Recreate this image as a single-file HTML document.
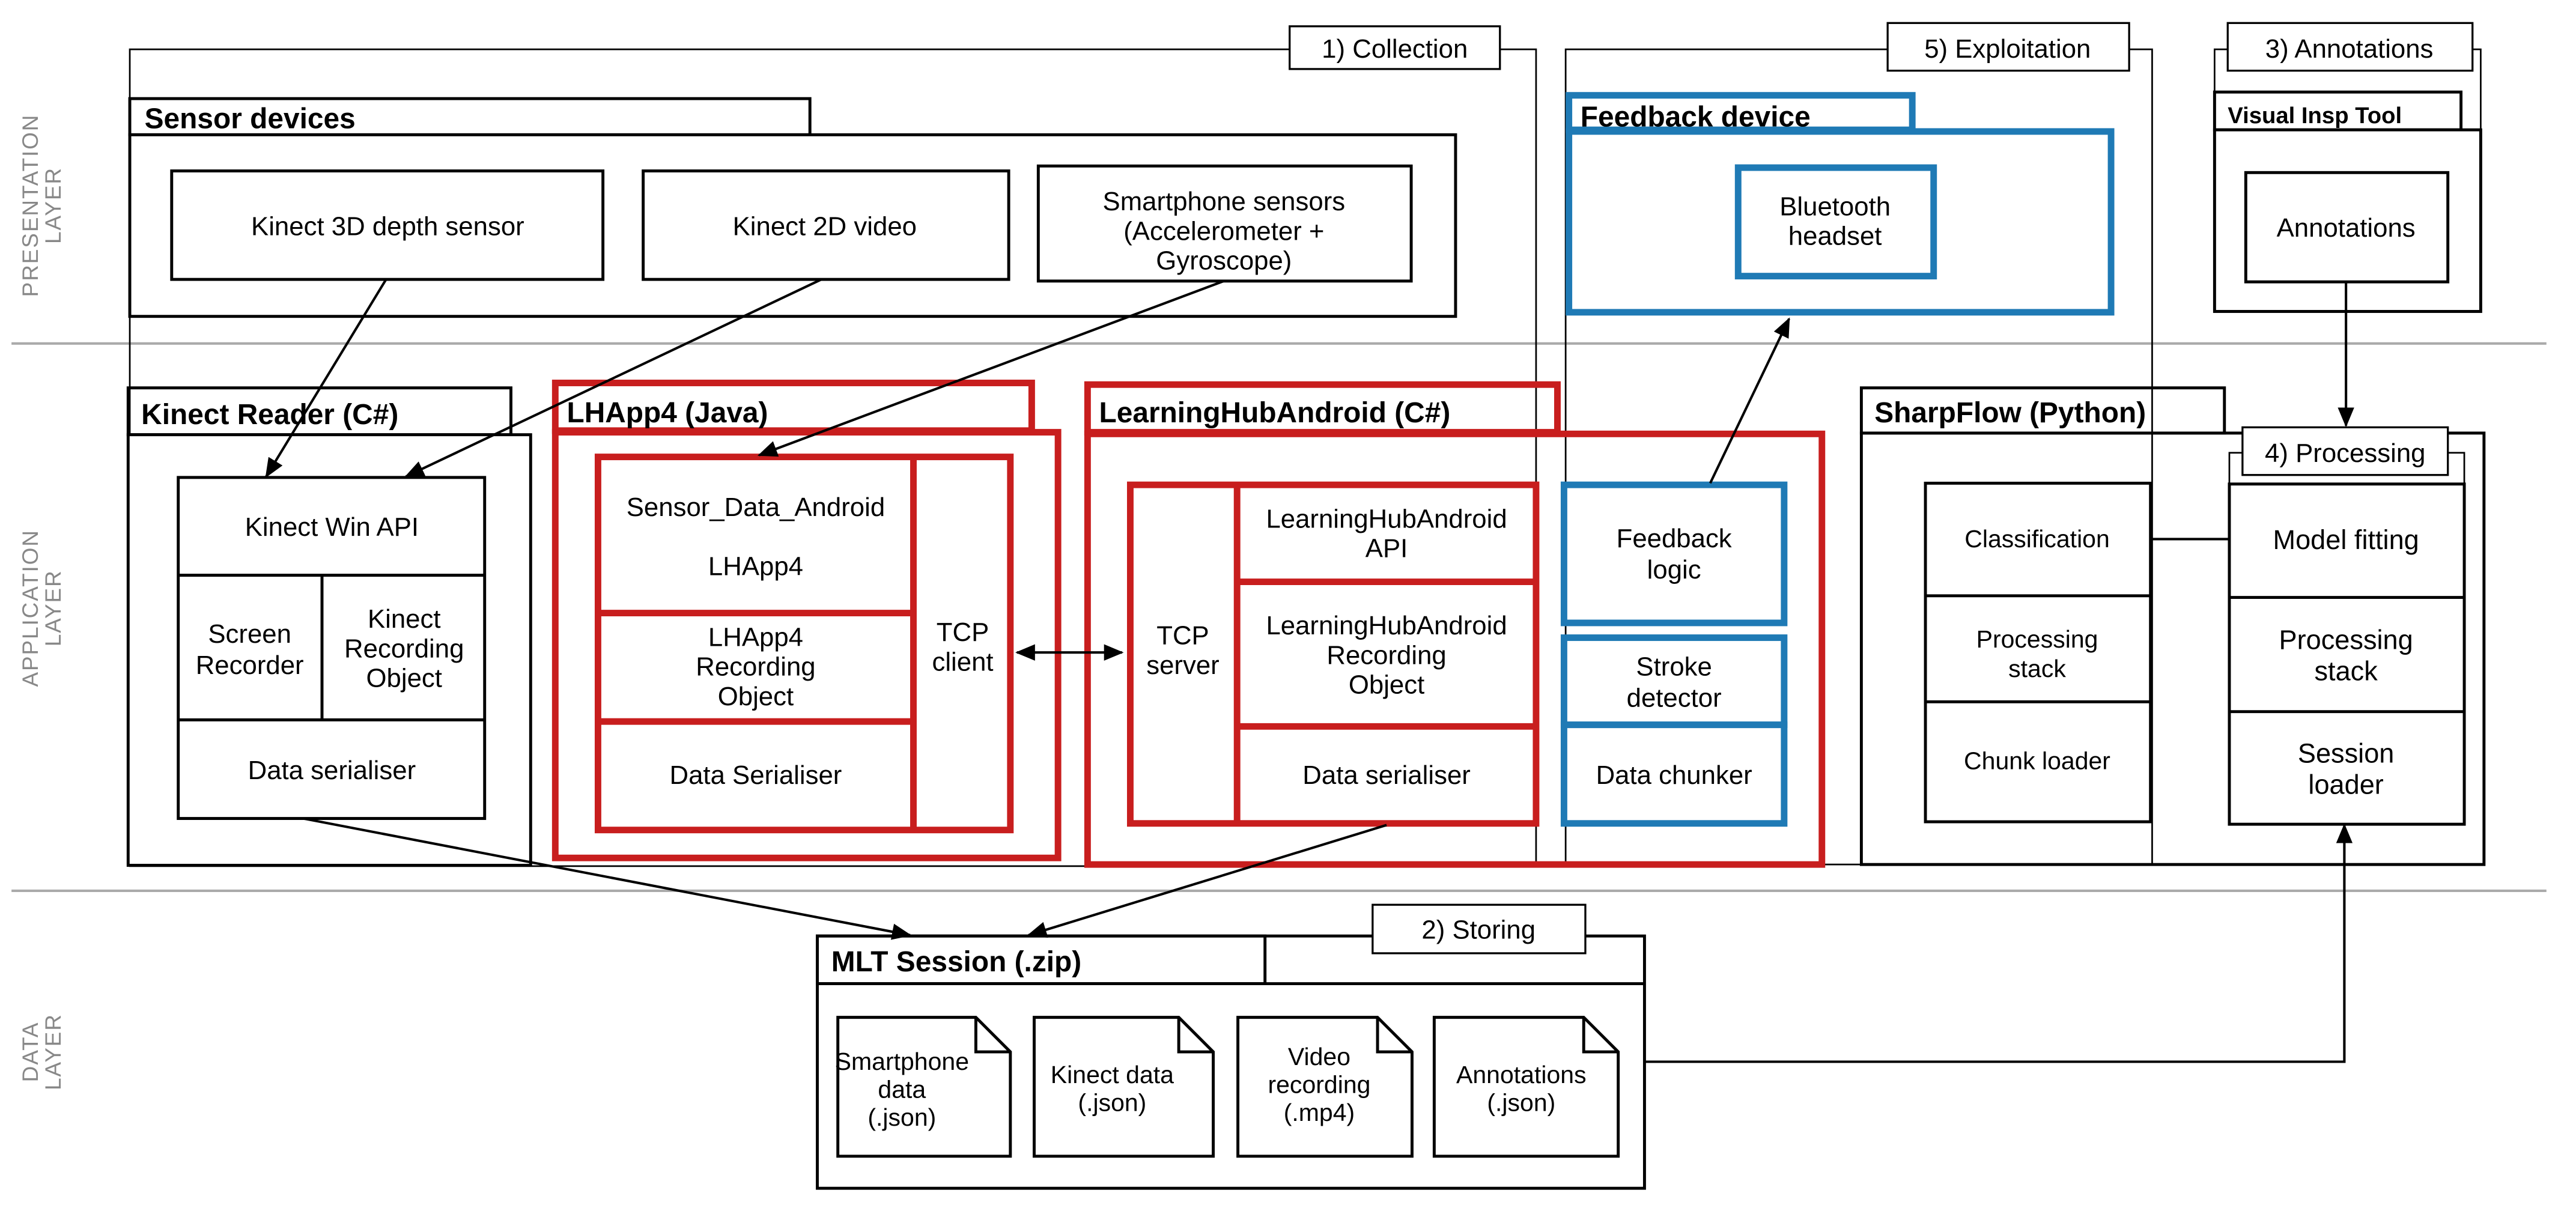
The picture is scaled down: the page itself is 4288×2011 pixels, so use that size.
<!DOCTYPE html>
<html><head><meta charset="utf-8"><style>html,body{margin:0;padding:0;background:#fff}svg{display:block}</style></head>
<body>
<svg xmlns="http://www.w3.org/2000/svg" width="4288" height="2011" viewBox="0 0 1568 735" preserveAspectRatio="none" font-family="'Liberation Sans', sans-serif">
<defs>
<marker id="ah" markerWidth="12" markerHeight="10" refX="11" refY="5" orient="auto" markerUnits="userSpaceOnUse"><path d="M0,0 L12,5 L0,10 z" fill="#000"/></marker>
<marker id="as" markerWidth="12" markerHeight="10" refX="1" refY="5" orient="auto" markerUnits="userSpaceOnUse"><path d="M12,0 L0,5 L12,10 z" fill="#000"/></marker>
</defs>
<rect width="1568" height="735" fill="#fff"/>
<line x1="7" y1="209" x2="1550" y2="209" stroke="#aaa" stroke-width="1.5"/>
<line x1="7" y1="542" x2="1550" y2="542" stroke="#aaa" stroke-width="1.5"/>
<g fill="#888" font-size="13.5" letter-spacing="0.7" text-anchor="middle">
<text transform="translate(23,125) rotate(-90)">PRESENTATION</text>
<text transform="translate(37,125) rotate(-90)">LAYER</text>
<text transform="translate(23,370) rotate(-90)">APPLICATION</text>
<text transform="translate(37,370) rotate(-90)">LAYER</text>
<text transform="translate(23,640) rotate(-90)">DATA</text>
<text transform="translate(37,640) rotate(-90)">LAYER</text>
</g>
<g fill="none" stroke="#000" stroke-width="1">
<polyline points="785,30 79,30 79,527 935,527 935,30 913,30"/>
<polyline points="1149,30 953,30 953,526 1310,526 1310,30 1296,30"/>
<polyline points="1356,30 1348,30 1348,56"/>
<polyline points="1505,30 1510,30 1510,79"/>
</g>
<g fill="#fff" stroke="#000" stroke-width="1.2">
<rect x="785" y="16" width="128" height="26"/>
<rect x="1149" y="14" width="147" height="29"/>
<rect x="1356" y="14" width="149" height="29"/>
</g>
<g font-size="16" text-anchor="middle">
<text x="849" y="35">1) Collection</text>
<text x="1222" y="35">5) Exploitation</text>
<text x="1430" y="35">3) Annotations</text>
</g>
<g fill="none" stroke="#000" stroke-width="1.8">
<rect x="79" y="60" width="414" height="22"/>
<rect x="79" y="82" width="807" height="110.5" fill="#fff"/>
<rect x="104.5" y="104" width="262.5" height="66"/>
<rect x="391.5" y="104" width="222.5" height="66"/>
<rect x="632" y="101" width="227" height="70"/>
</g>
<text x="88" y="78" font-size="17.5" font-weight="bold">Sensor devices</text>
<g font-size="16" text-anchor="middle">
<text x="236" y="143">Kinect 3D depth sensor</text>
<text x="502" y="143">Kinect 2D video</text>
<text x="745" y="128">Smartphone sensors</text>
<text x="745" y="146">(Accelerometer +</text>
<text x="745" y="164">Gyroscope)</text>
</g>
<g fill="none" stroke="#1f7ab5" stroke-width="4">
<rect x="955" y="58" width="209" height="21"/>
<rect x="955" y="80" width="330" height="110" fill="#fff"/>
<rect x="1058" y="102" width="119" height="66"/>
<rect x="952" y="295" width="134" height="84"/>
<rect x="952" y="388" width="134" height="53"/>
<rect x="952" y="441" width="134" height="60"/>
</g>
<text x="962" y="77" font-size="17.5" font-weight="bold">Feedback device</text>
<g font-size="16" text-anchor="middle">
<text x="1117" y="131">Bluetooth</text>
<text x="1117" y="149">headset</text>
<text x="1019" y="333">Feedback</text>
<text x="1019" y="352">logic</text>
<text x="1019" y="411">Stroke</text>
<text x="1019" y="430">detector</text>
<text x="1019" y="477">Data chunker</text>
</g>
<g fill="none" stroke="#000" stroke-width="1.8">
<rect x="1348" y="56" width="150" height="23"/>
<rect x="1348" y="79" width="162" height="110.5" fill="#fff"/>
<rect x="1367" y="105" width="123" height="66.5"/>
</g>
<text x="1356" y="75" font-size="14" font-weight="bold">Visual Insp Tool</text>
<text x="1428" y="144" font-size="16" text-anchor="middle">Annotations</text>
<g fill="none" stroke="#000" stroke-width="1.8">
<rect x="78" y="236" width="233" height="28.5"/>
<rect x="78" y="264.5" width="245" height="262" fill="#fff"/>
<rect x="108.5" y="290.5" width="186.5" height="207.5"/>
<line x1="108.5" y1="350" x2="295" y2="350"/>
<line x1="108.5" y1="438" x2="295" y2="438"/>
<line x1="196" y1="350" x2="196" y2="438"/>
</g>
<text x="86" y="258" font-size="17.5" font-weight="bold">Kinect Reader (C#)</text>
<g font-size="16" text-anchor="middle">
<text x="202" y="326">Kinect Win API</text>
<text x="152" y="391">Screen</text>
<text x="152" y="410">Recorder</text>
<text x="246" y="382">Kinect</text>
<text x="246" y="400">Recording</text>
<text x="246" y="418">Object</text>
<text x="202" y="474">Data serialiser</text>
</g>
<g fill="none" stroke="#c81e1e" stroke-width="4">
<rect x="338" y="233" width="290" height="29"/>
<rect x="338" y="263" width="306" height="259" fill="#fff"/>
<rect x="364" y="278" width="251" height="227"/>
<line x1="556" y1="278" x2="556" y2="505"/>
<line x1="364" y1="373" x2="556" y2="373"/>
<line x1="364" y1="439" x2="556" y2="439"/>
</g>
<text x="345" y="257" font-size="17.5" font-weight="bold">LHApp4 (Java)</text>
<g font-size="16" text-anchor="middle">
<text x="460" y="314">Sensor_Data_Android</text>
<text x="460" y="350">LHApp4</text>
<text x="460" y="393">LHApp4</text>
<text x="460" y="411">Recording</text>
<text x="460" y="429">Object</text>
<text x="460" y="477">Data Serialiser</text>
<text x="586" y="390">TCP</text>
<text x="586" y="408">client</text>
</g>
<g fill="none" stroke="#c81e1e" stroke-width="4">
<rect x="662" y="234" width="286" height="29"/>
<rect x="662" y="264" width="447" height="262"/>
<rect x="688" y="295" width="247" height="206"/>
<line x1="753" y1="295" x2="753" y2="501"/>
<line x1="753" y1="354" x2="935" y2="354"/>
<line x1="753" y1="442" x2="935" y2="442"/>
</g>
<text x="669" y="257" font-size="17.5" font-weight="bold">LearningHubAndroid (C#)</text>
<g font-size="16" text-anchor="middle">
<text x="844" y="321">LearningHubAndroid</text>
<text x="844" y="339">API</text>
<text x="844" y="386">LearningHubAndroid</text>
<text x="844" y="404">Recording</text>
<text x="844" y="422">Object</text>
<text x="844" y="477">Data serialiser</text>
<text x="720" y="392">TCP</text>
<text x="720" y="410">server</text>
</g>
<g fill="none" stroke="#000" stroke-width="1.8">
<rect x="1133" y="236" width="221" height="27.5"/>
<rect x="1133" y="263.5" width="379" height="262.5"/>
<rect x="1172" y="294" width="137" height="206"/>
<line x1="1172" y1="362.5" x2="1309" y2="362.5"/>
<line x1="1172" y1="427" x2="1309" y2="427"/>
<rect x="1357" y="294.5" width="143" height="207"/>
<line x1="1357" y1="363.5" x2="1500" y2="363.5"/>
<line x1="1357" y1="433" x2="1500" y2="433"/>
</g>
<polyline points="1365,275.5 1357,275.5 1357,294.5" fill="none" stroke="#000" stroke-width="1"/>
<polyline points="1490,275.5 1500,275.5 1500,294.5" fill="none" stroke="#000" stroke-width="1"/>
<rect x="1365" y="260" width="125" height="29" fill="#fff" stroke="#000" stroke-width="1.2"/>
<text x="1427.5" y="281" font-size="16" text-anchor="middle">4) Processing</text>
<line x1="1309" y1="328" x2="1357" y2="328" stroke="#000" stroke-width="1.5"/>
<text x="1141" y="257" font-size="17.5" font-weight="bold">SharpFlow (Python)</text>
<g font-size="15" text-anchor="middle">
<text x="1240" y="333">Classification</text>
<text x="1240" y="394">Processing</text>
<text x="1240" y="412">stack</text>
<text x="1240" y="468">Chunk loader</text>
</g>
<g font-size="16.5" text-anchor="middle">
<text x="1428" y="334">Model fitting</text>
<text x="1428" y="395">Processing</text>
<text x="1428" y="414">stack</text>
<text x="1428" y="464">Session</text>
<text x="1428" y="483">loader</text>
</g>
<g fill="none" stroke="#000" stroke-width="1.8">
<rect x="497.5" y="569.5" width="503.5" height="153.5"/>
<rect x="497.5" y="569.5" width="272.5" height="29"/>
<line x1="497.5" y1="598.5" x2="1001" y2="598.5"/>
<path d="M510,619 H594 L615,640 V703.5 H510 Z"/>
<path d="M594,619 V640 H615"/>
<path d="M629.5,619 H717.5 L738.5,640 V703.5 H629.5 Z"/>
<path d="M717.5,619 V640 H738.5"/>
<path d="M753.5,619 H838.5 L859.5,640 V703.5 H753.5 Z"/>
<path d="M838.5,619 V640 H859.5"/>
<path d="M873,619 H964 L985,640 V703.5 H873 Z"/>
<path d="M964,619 V640 H985"/>
</g>
<rect x="835.5" y="550.5" width="129.5" height="29.5" fill="#fff" stroke="#000" stroke-width="1.2"/>
<text x="900" y="571" font-size="16" text-anchor="middle">2) Storing</text>
<text x="506" y="591" font-size="17.5" font-weight="bold">MLT Session (.zip)</text>
<g font-size="15" text-anchor="middle">
<text x="549" y="651">Smartphone</text>
<text x="549" y="668">data</text>
<text x="549" y="685">(.json)</text>
<text x="677" y="659">Kinect data</text>
<text x="677" y="676">(.json)</text>
<text x="803" y="648">Video</text>
<text x="803" y="665">recording</text>
<text x="803" y="682">(.mp4)</text>
<text x="926" y="659">Annotations</text>
<text x="926" y="676">(.json)</text>
</g>
<g stroke="#000" stroke-width="1.5" fill="none">
<line x1="235" y1="170" x2="162" y2="290" marker-end="url(#ah)"/>
<line x1="500" y1="170" x2="247" y2="290" marker-end="url(#ah)"/>
<line x1="745" y1="171" x2="462" y2="277" marker-end="url(#ah)"/>
<line x1="184.5" y1="498" x2="554" y2="569" marker-end="url(#ah)"/>
<line x1="844" y1="502" x2="626" y2="569" marker-end="url(#ah)"/>
<line x1="619" y1="397" x2="683" y2="397" marker-start="url(#as)" marker-end="url(#ah)"/>
<line x1="1041" y1="294" x2="1089" y2="194" marker-end="url(#ah)"/>
<line x1="1428" y1="171.5" x2="1428" y2="259" marker-end="url(#ah)"/>
<polyline points="1001,646 1427,646 1427,502" marker-end="url(#ah)"/>
</g>
</svg>
</body></html>
